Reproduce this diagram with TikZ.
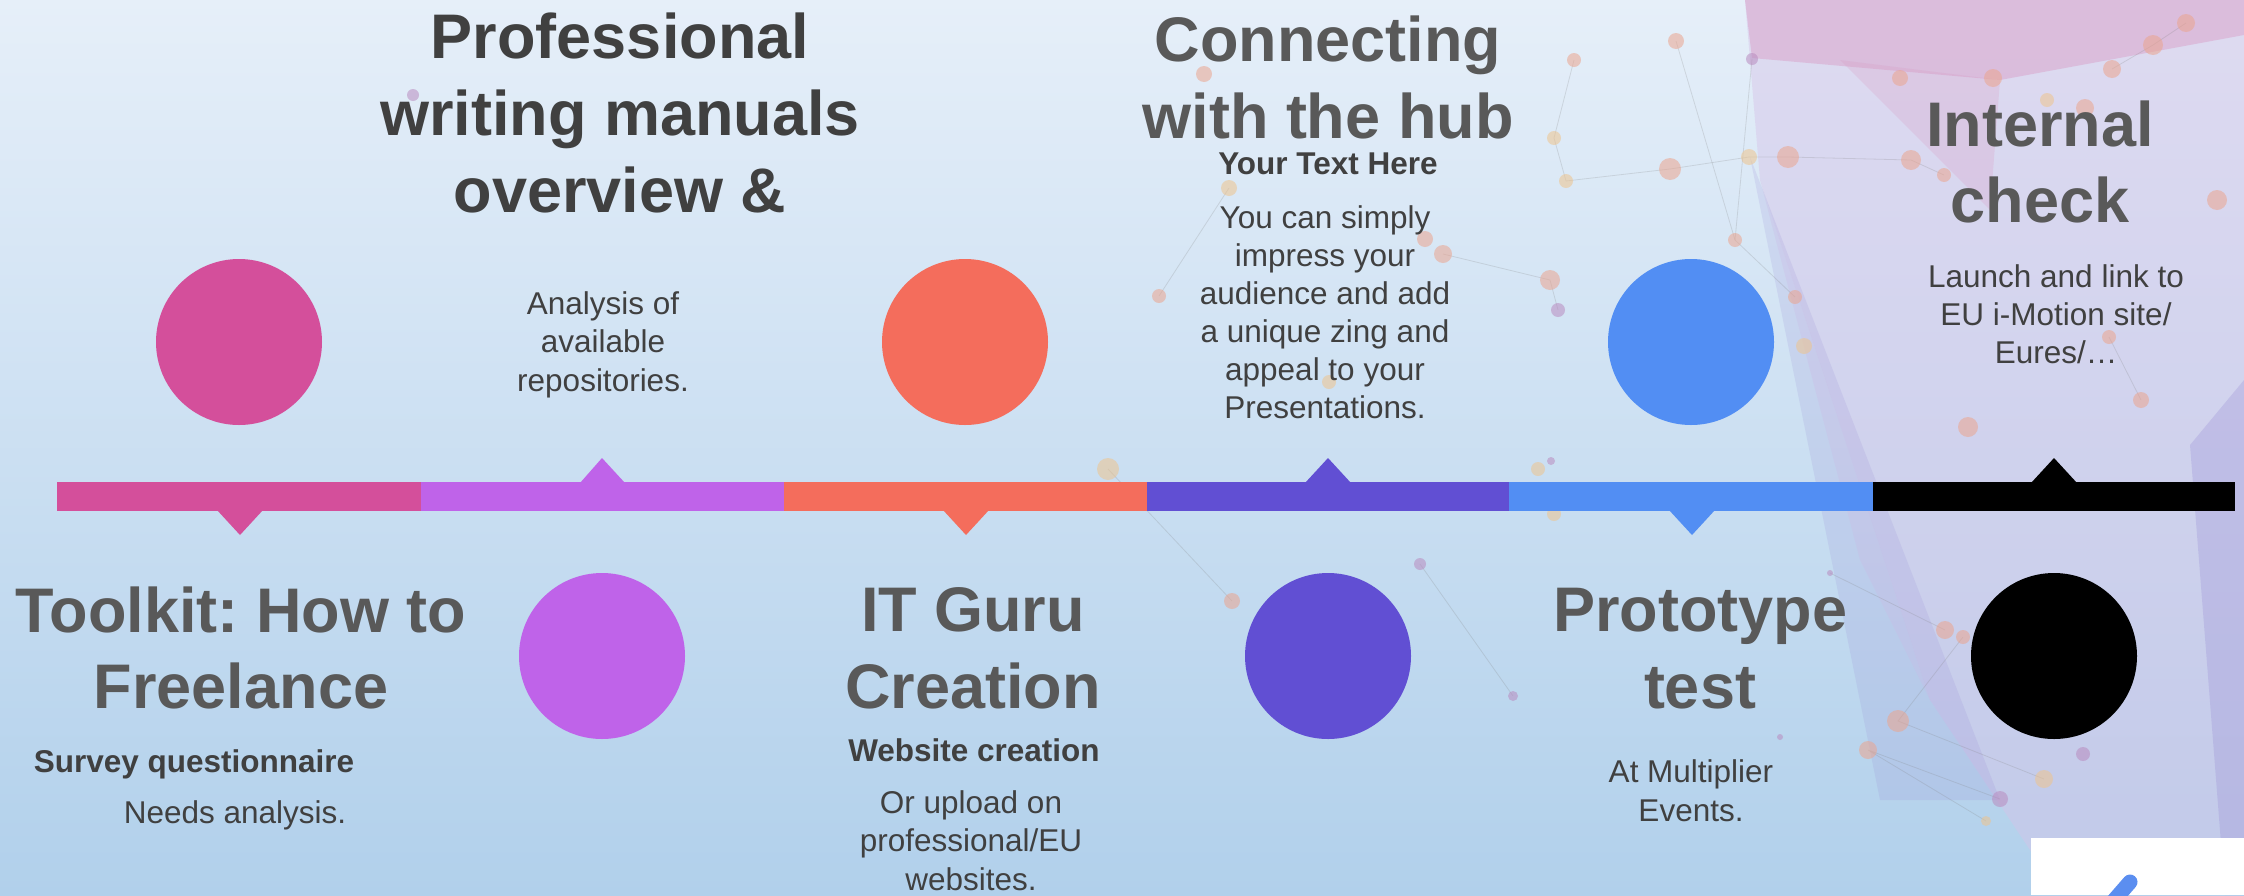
\documentclass[tikz,border=0pt]{standalone}
\usepackage{fontspec}
\setmainfont{Liberation Sans}
\frenchspacing
\definecolor{cpink}{HTML}{D44F9B}
\definecolor{cpurple}{HTML}{BF63E9}
\definecolor{corange}{HTML}{F46D5C}
\definecolor{cviolet}{HTML}{614FD3}
\definecolor{cblue}{HTML}{528EF3}
\definecolor{tgray}{HTML}{595959}
\definecolor{tdark}{HTML}{404040}
\definecolor{bgtop}{HTML}{E6EFF9}
\definecolor{bgbot}{HTML}{B1D0EB}
\definecolor{dotor}{HTML}{EBA58F}
\definecolor{dotpu}{HTML}{B98CC0}
\definecolor{dotye}{HTML}{EEC48E}
\definecolor{lav}{HTML}{D6C3E8}
\definecolor{pinkpoly}{HTML}{D99AC4}
\definecolor{deeppoly}{HTML}{9A8FD6}
\newcommand\txtlines[6]{\foreach \ln [count=\i] in {#6}{\node[#5] (#1\i) at (#2,{#3+(\i-1)*#4}) {\ln};}}
\tikzset{
  ttl/.style={font=\fontsize{63}{77}\selectfont\bfseries, text=tgray, inner sep=0pt, anchor=base},
  bdy/.style={font=\fontsize{31.5}{38.5}\selectfont, text=tdark, inner sep=0pt, anchor=base},
  bdyb/.style={font=\fontsize{31.5}{38.5}\selectfont\bfseries, text=tdark, inner sep=0pt, anchor=base},
  disc/.style={circle, fill=#1, draw=none, minimum size=166pt, inner sep=0pt},
  netline/.style={draw=gray, opacity=0.22, line width=0.8pt},
  netdot/.style={fill=#1, opacity=0.55}
}
\begin{document}
\begin{tikzpicture}[x=1pt, y=-1pt]
\useasboundingbox (0,0) rectangle (2244,895);
% background
\shade[top color=bgtop, bottom color=bgbot] (0,0) rectangle (2244,895);
% translucent polygons
\fill[lav, opacity=0.45] (1745,0) -- (2244,0) -- (2244,895) -- (2060,895) -- (1930,700) -- (1760,180) -- cycle;
\fill[lav, opacity=0.3] (1760,180) -- (1930,700) -- (1860,560) -- cycle;
\fill[pinkpoly, opacity=0.45] (1745,0) -- (2244,0) -- (2244,35) -- (2000,80) -- (1752,58) -- cycle;
\fill[pinkpoly, opacity=0.25] (1840,60) -- (2000,80) -- (1990,210) -- cycle;
\fill[deeppoly, opacity=0.18] (1750,157) -- (1880,800) -- (2000,800) -- cycle;
\fill[deeppoly, opacity=0.3] (2190,445) -- (2244,380) -- (2244,895) -- (2225,895) -- cycle;
% network lines
\draw[netline] (1963,637) -- (1898,721) -- (2044,779);
\draw[netline] (2000,799) -- (1868,750) -- (1986,821);
\draw[netline] (1830,573) -- (1945,630);
\draw[netline] (2112,69) -- (2153,45) -- (2186,23);
\draw[netline] (1749,157) -- (1788,157) -- (1911,160) -- (1944,175);
\draw[netline] (1752,59) -- (1735,240) -- (1795,297);
\draw[netline] (1574,60) -- (1554,138) -- (1566,181) -- (1670,169) -- (1749,157);
\draw[netline] (1159,296) -- (1229,188);
\draw[netline] (1108,469) -- (1232,601);
\draw[netline] (1420,564) -- (1513,696);
\draw[netline] (1676,41) -- (1735,240);
\draw[netline] (1443,254) -- (1550,280) -- (1558,310);
\draw[netline] (2109,337) -- (2141,400);
% network dots
\fill[netdot=dotor] (1204,74) circle (8);
\fill[netdot=dotor] (1574,60) circle (7);
\fill[netdot=dotor] (1676,41) circle (8);
\fill[netdot=dotye] (1554,138) circle (7);
\fill[netdot=dotye] (1566,181) circle (7);
\fill[netdot=dotor] (1670,169) circle (11);
\fill[netdot=dotye] (1229,188) circle (8);
\fill[netdot=dotor] (1159,296) circle (7);
\fill[netdot=dotor] (1425,239) circle (8);
\fill[netdot=dotor] (1443,254) circle (9);
\fill[netdot=dotor] (1550,280) circle (10);
\fill[netdot=dotpu] (1558,310) circle (7);
\fill[netdot=dotor] (1735,240) circle (7);
\fill[netdot=dotye] (1108,469) circle (11);
\fill[netdot=dotye] (1538,469) circle (7);
\fill[netdot=dotpu] (1551,461) circle (4);
\fill[netdot=dotor] (1232,601) circle (8);
\fill[netdot=dotpu] (1420,564) circle (6);
\fill[netdot=dotpu] (1513,696) circle (5);
\fill[netdot=dotye] (1554,514) circle (7);
\fill[netdot=dotye] (1329,382) circle (7);
\fill[netdot=dotpu] (1752,59) circle (6);
\fill[netdot=dotor] (1900,78) circle (8);
\fill[netdot=dotor] (1993,78) circle (9);
\fill[netdot=dotor] (2112,69) circle (9);
\fill[netdot=dotor] (2153,45) circle (10);
\fill[netdot=dotor] (2186,23) circle (9);
\fill[netdot=dotye] (2047,100) circle (7);
\fill[netdot=dotor] (2085,108) circle (9);
\fill[netdot=dotye] (1749,157) circle (8);
\fill[netdot=dotor] (1788,157) circle (11);
\fill[netdot=dotor] (1911,160) circle (10);
\fill[netdot=dotor] (1944,175) circle (7);
\fill[netdot=dotor] (2217,200) circle (10);
\fill[netdot=dotor] (1795,297) circle (7);
\fill[netdot=dotye] (1804,346) circle (8);
\fill[netdot=dotor] (2109,337) circle (7);
\fill[netdot=dotor] (2141,400) circle (8);
\fill[netdot=dotor] (1968,427) circle (10);
\fill[netdot=dotor] (1945,630) circle (9);
\fill[netdot=dotor] (1963,637) circle (7);
\fill[netdot=dotor] (1898,721) circle (11);
\fill[netdot=dotor] (1868,750) circle (9);
\fill[netdot=dotpu] (2000,799) circle (8);
\fill[netdot=dotye] (2044,779) circle (9);
\fill[netdot=dotpu] (2083,754) circle (7);
\fill[netdot=dotye] (1986,821) circle (5);
\fill[netdot=dotpu] (1830,573) circle (3);
\fill[netdot=dotpu] (1780,737) circle (3);
\fill[netdot=dotpu] (413,95) circle (6);
% timeline bar
\fill[cpink]   (57,482)   rectangle (421,511);
\fill[cpurple] (421,482)  rectangle (784,511);
\fill[corange] (784,482)  rectangle (1147,511);
\fill[cviolet] (1147,482) rectangle (1509,511);
\fill[cblue]   (1509,482) rectangle (1873,511);
\fill[black]   (1873,482) rectangle (2235,511);
% pointers
\fill[cpink]   (217,510)  -- (263,510)  -- (240,535)  -- cycle;
\fill[cpurple] (580,483)  -- (625,483)  -- (602,458)  -- cycle;
\fill[corange] (943,510)  -- (989,510)  -- (966,535)  -- cycle;
\fill[cviolet] (1305,483) -- (1351,483) -- (1328,458) -- cycle;
\fill[cblue]   (1669,510) -- (1715,510) -- (1692,535) -- cycle;
\fill[black]   (2031,483) -- (2077,483) -- (2054,458) -- cycle;
% discs
\node[disc=cpink]   (d1) at (239,342) {};
\node[disc=cpurple] (d2) at (602,656) {};
\node[disc=corange] (d3) at (965,342) {};
\node[disc=cviolet] (d4) at (1328,656) {};
\node[disc=cblue]   (d5) at (1691,342) {};
\node[disc=black]   (d6) at (2054,656) {};
% titles
\txtlines{prof}{620}{58}{77}{ttl, text=tdark}{{Professional},{writing manuals},{overview \&}}
\txtlines{conn}{1328}{61}{77}{ttl}{{Connecting},{with the hub}}
\txtlines{intc}{2040}{146}{76}{ttl}{{Internal},{check}}
\txtlines{tool}{241}{632}{76}{ttl}{{Toolkit: How to},{Freelance}}
\txtlines{itg}{973}{631}{77}{ttl}{{IT Guru},{Creation}}
\txtlines{prot}{1700}{631}{77}{ttl}{{Prototype},{test}}
% body texts
\txtlines{ana}{603}{314}{38.5}{bdy}{{Analysis of},{available},{repositories.}}
\node[bdyb] (yth) at (1328,174) {Your Text Here};
\txtlines{ycs}{1325}{228}{38.1}{bdy}{{You can simply},{impress your},{audience and add},{a unique zing and},{appeal to your},{Presentations.}}
\txtlines{lau}{2056}{287}{38.3}{bdy}{{Launch and link to},{EU i-Motion site/},{Eures/\ldots}}
\node[bdyb] (svq) at (194,772) {Survey questionnaire};
\node[bdy] (nda) at (235,823) {Needs analysis.};
\node[bdyb] (wsc) at (974,761) {Website creation};
\txtlines{oup}{971}{813}{38.5}{bdy}{{Or upload on},{professional/EU},{websites.}}
\txtlines{atm}{1691}{782}{39}{bdy}{{At Multiplier},{Events.}}
% white corner box with logo fragment
\fill[white] (2031,838) rectangle (2244,895);
\begin{scope}
\clip (2031,838) rectangle (2244,895);
\draw[line width=15pt, line cap=round, draw={rgb,255:red,91;green,142;blue,240}] (2110,905) -- (2130,882);
\end{scope}
\end{tikzpicture}
\end{document}
